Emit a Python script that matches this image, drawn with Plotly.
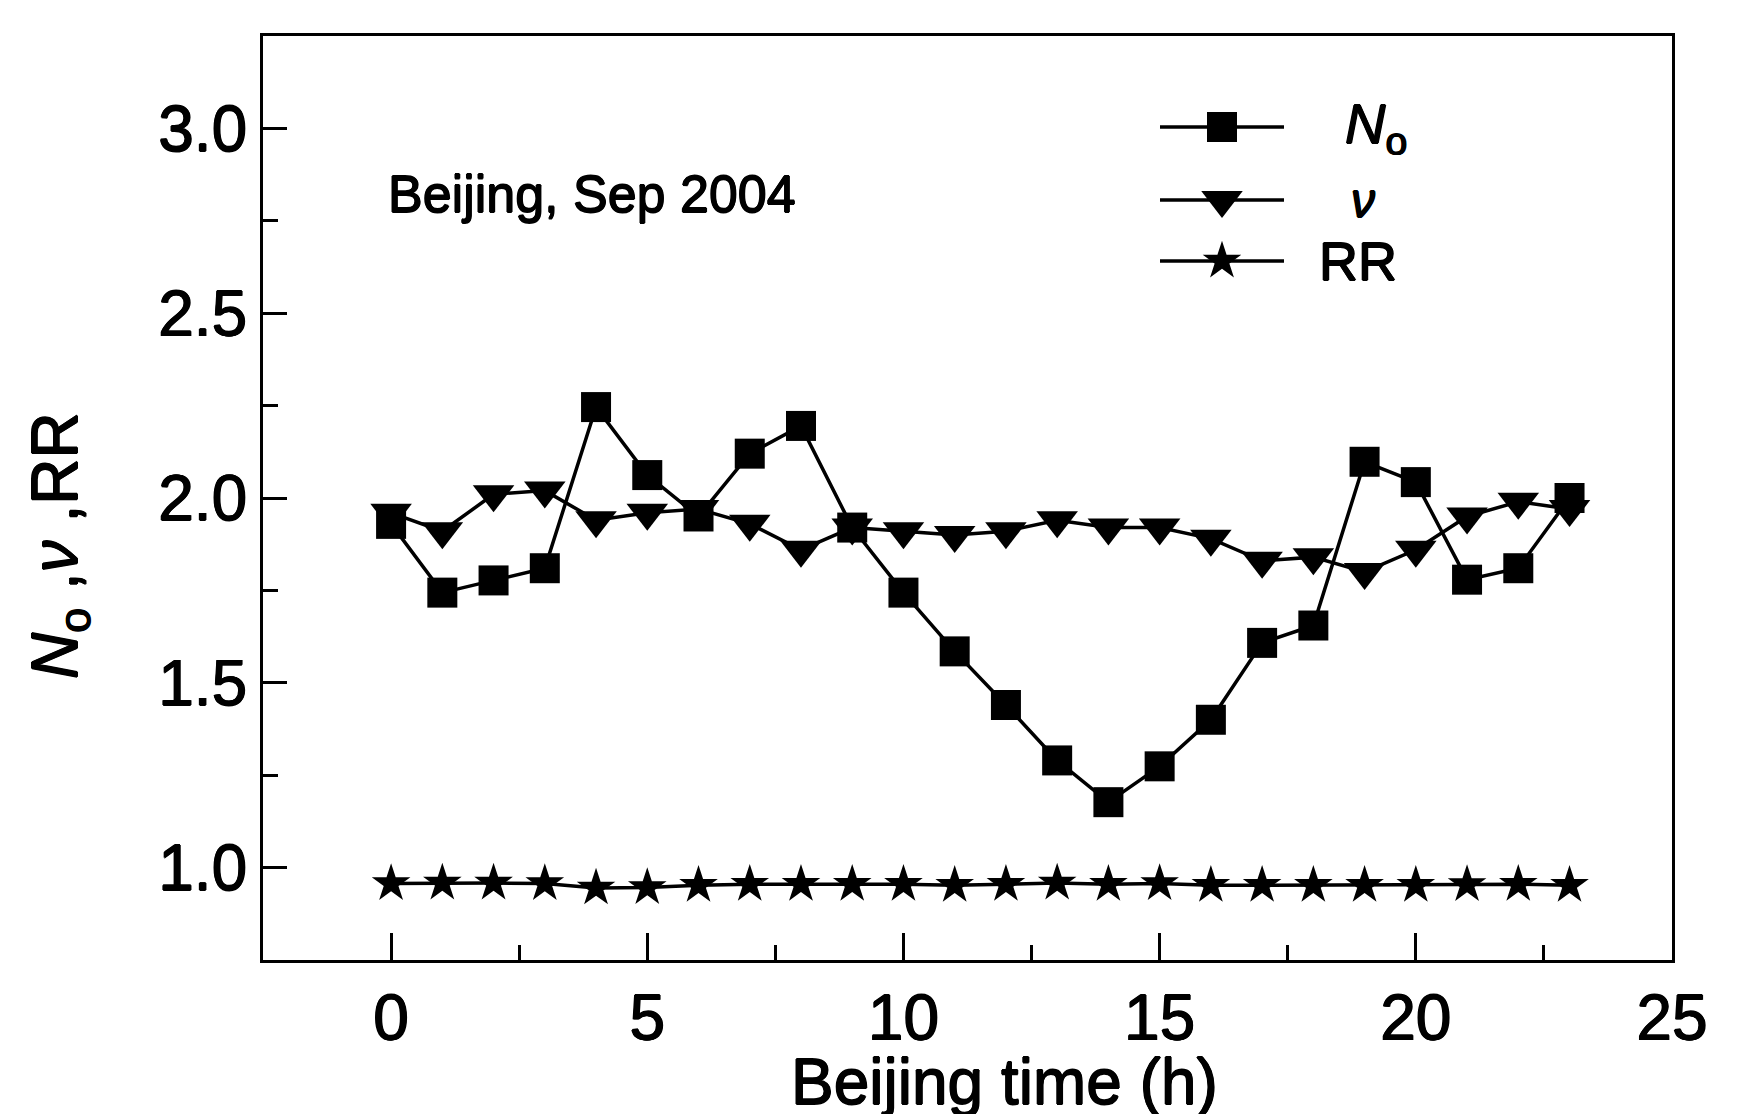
import plotly.graph_objects as go

# Hourly values, Beijing, September 2004
hours = list(range(24))
n_o = [1.93, 1.744, 1.777, 1.81, 2.246, 2.062, 1.95, 2.12, 2.195, 1.92,
       1.744, 1.585, 1.44, 1.29, 1.177, 1.274, 1.40, 1.608, 1.655, 2.098,
       2.043, 1.779, 1.81, 2.0]
nu = [1.96, 1.91, 2.01, 2.02, 1.94, 1.96, 1.97, 1.93, 1.86, 1.92,
      1.91, 1.90, 1.91, 1.94, 1.92, 1.92, 1.89, 1.83, 1.84, 1.80,
      1.86, 1.95, 1.99, 1.97]
rr = [0.957, 0.958, 0.958, 0.957, 0.945, 0.946, 0.952, 0.955, 0.955, 0.955,
      0.955, 0.952, 0.955, 0.958, 0.955, 0.957, 0.952, 0.952, 0.952, 0.952,
      0.952, 0.954, 0.955, 0.952]

x_ticks = [0, 5, 10, 15, 20, 25]
y_ticks = [1.0, 1.5, 2.0, 2.5, 3.0]

FONT = "Liberation Sans, Arial, sans-serif"
# slight outline so the glyphs read a little heavier, like a printed figure
HEAVY = "0.7px 0 0 black, -0.7px 0 0 black, 0 0.7px 0 black, 0 -0.7px 0 black"
W, H = 1749, 1114
L, R, T, B = 263, 77, 36, 154
PW, PH = W - L - R, H - T - B
LINE_W = 3.5


def font(size):
    return dict(family=FONT, size=size, color="black", shadow=HEAVY)


SERIES = [
    ("triangle-down", 36, nu),
    ("star", 29, rr),
    ("square", 30, n_o),
]

fig = go.Figure()
for symbol, size, values in SERIES:
    fig.add_trace(go.Scatter(
        x=hours, y=values, mode="lines+markers",
        line=dict(color="black", width=LINE_W),
        marker=dict(symbol=symbol, size=size, color="black", line=dict(width=0)),
        showlegend=False, hoverinfo="skip",
    ))

# Legend key, drawn on a pixel-scaled overlay axis
legend_rows = [("square", 30, 127, "<i>N</i><sub>o</sub>", 1343, 56),
               ("triangle-down", 36, 200, "<i>ν</i>", 1349, 48),
               ("star", 29, 261, "RR", 1317, 54)]
for symbol, size, py, label, tx, fs in legend_rows:
    fig.add_shape(type="line", xref="x2", yref="y2", x0=1160, x1=1284, y0=py, y1=py,
                  line=dict(color="black", width=LINE_W))
    fig.add_trace(go.Scatter(
        x=[1222], y=[py], xaxis="x2", yaxis="y2", mode="markers",
        marker=dict(symbol=symbol, size=size, color="black", line=dict(width=0)),
        showlegend=False, hoverinfo="skip",
    ))
    fig.add_annotation(xref="x2", yref="y2", x=tx, y=py, text=label, showarrow=False,
                       xanchor="left", yanchor="middle", font=font(fs))

axis_common = dict(
    showgrid=False, zeroline=False, showline=True, linecolor="black", linewidth=3,
    mirror=True, ticks="inside", tickcolor="black", tickwidth=3,
    tickfont=font(64),
)
fig.update_layout(
    width=W, height=H, autosize=False,
    margin=dict(l=L, r=R, t=T, b=B),
    paper_bgcolor="white", plot_bgcolor="white",
    xaxis=dict(range=[-2.5, 25], tickvals=x_ticks, ticklen=27,
               minor=dict(dtick=2.5, tick0=0, ticks="inside", ticklen=15,
                          tickwidth=3, tickcolor="black", showgrid=False),
               **axis_common),
    yaxis=dict(range=[0.75, 3.25], tickvals=y_ticks, tickformat=".1f", ticklen=24,
               minor=dict(dtick=0.25, tick0=0, ticks="inside", ticklen=15,
                          tickwidth=3, tickcolor="black", showgrid=False),
               **axis_common),
    xaxis2=dict(range=[L, L + PW], overlaying="x", visible=False, fixedrange=True),
    yaxis2=dict(range=[T + PH, T], overlaying="y", visible=False, fixedrange=True),
    showlegend=False,
)

# Axis titles and inset label
fig.add_annotation(xref="paper", yref="paper", x=(1004 - L) / PW, y=(T + PH - 1082) / PH,
                   text="Beijing time (h)", showarrow=False,
                   xanchor="center", yanchor="middle", font=font(64))
fig.add_annotation(xref="paper", yref="paper", x=(59 - L) / PW, y=(T + PH - 545) / PH,
                   text="<i>N</i><sub>o</sub> ,<i>ν</i> ,RR", textangle=-90, showarrow=False,
                   xanchor="center", yanchor="middle", font=font(64))
fig.add_annotation(xref="paper", yref="paper", x=(386 - L) / PW, y=(T + PH - 194) / PH,
                   text="Beijing, Sep 2004", showarrow=False,
                   xanchor="left", yanchor="middle", font=font(52))

fig.write_html("out.html")
